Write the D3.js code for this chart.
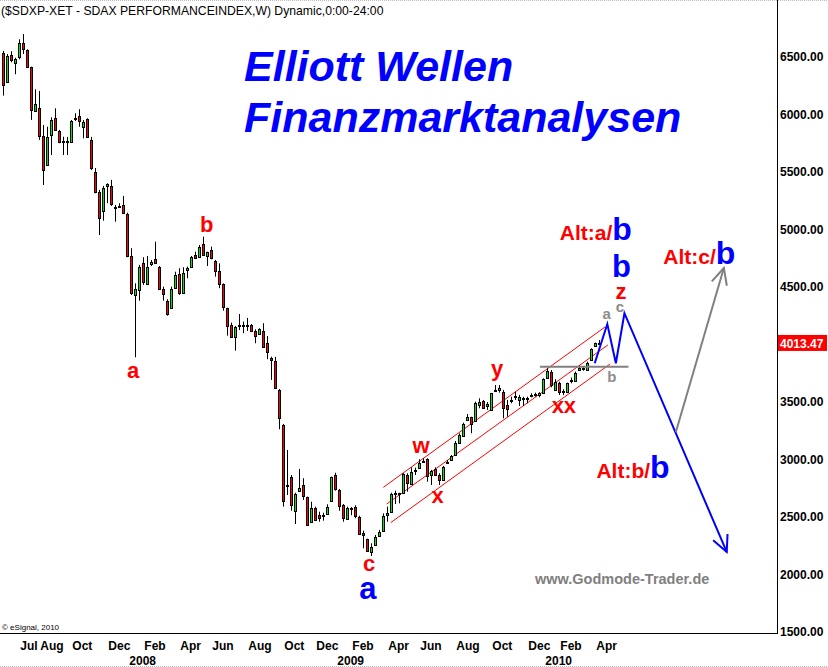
<!DOCTYPE html>
<html>
<head>
<meta charset="utf-8">
<script src="https://cdn.jsdelivr.net/npm/d3@7"></script>
<style>
  body { margin: 0; background: #fff; }
  svg { display: block; font-family: Arial, "Liberation Sans", sans-serif; }
</style>
</head>
<body>
<svg width="828" height="667"></svg>
<script>
// weekly SDAX candles, first week starts Mon 2007-06-04
var firstWeek = '2007-06-04';
var opens = [6538,6286,6518,6451,6498,6619,6561,6411,6033,6057,5813,5561,5822,5967,5857,5764,5765,5764,5966,5987,
  5894,5959,5779,5503,5329,5155,5372,5379,5192,5202,5213,5135,4770,4431,4474,4706,4524,4694,4741,4672,
  4480,4381,4315,4489,4611,4445,4642,4677,4779,4759,4874,4764,4822,4729,4642,4526,4315,4170,4068,4165,
  4165,4170,4170,4118,4089,4120,4011,3880,3857,3605,3300,2776,2845,2555,2720,2776,2672,2451,2581,2515,
  2503,2532,2633,2865,2735,2604,2483,2570,2585,2503,2358,2306,2198,2263,2338,2381,2520,2546,2705,2706,
  2706,2865,2787,2906,2932,2987,3002,2865,2915,2863,2816,2976,2996,3039,3146,3205,3344,3367,3329,3474,
  3509,3465,3425,3602,3605,3587,3474,3515,3544,3518,3531,3531,3558,3565,3561,3576,3715,3764,3611,3668,
  3598,3581,3684,3685,3778,3791,3785,3865,3981,4011];
var highs = [6553,6526,6550,6494,6654,6700,6567,6416,6219,6205,5909,5894,5976,6054,5865,5807,5805,5952,6011,6046,
  5952,5967,5805,5535,5344,5379,5402,5431,5213,5228,5292,5146,4837,4532,4692,4759,4770,4735,4894,4683,
  4503,4393,4503,4633,4663,4672,4677,4770,4807,4866,4938,4807,4851,4735,4706,4531,4320,4190,4161,4265,
  4199,4231,4178,4132,4141,4185,4074,3894,3892,3613,3309,3083,2865,2711,2918,2837,2677,2633,2590,2546,
  2537,2611,2851,2885,2744,2613,2590,2587,2602,2511,2381,2312,2271,2344,2387,2532,2590,2711,2729,2711,
  2880,2880,2932,2929,3002,3011,3011,2909,2932,2880,2944,2996,3039,3161,3228,3320,3396,3372,3503,3532,
  3518,3500,3579,3648,3648,3605,3518,3546,3590,3561,3546,3546,3576,3581,3585,3706,3793,3778,3698,3677,
  3611,3668,3712,3764,3819,3813,3851,3967,4016,4039];
var lows = [6164,6283,6454,6350,6480,6526,6411,5953,6031,5779,5387,5552,5648,5861,5750,5648,5648,5761,5944,5894,
  5793,5796,5518,5315,4952,5077,5228,5205,5068,5193,5135,4759,4431,3889,4381,4518,4518,4683,4700,4474,
  4381,4251,4309,4483,4431,4439,4576,4672,4744,4752,4770,4683,4741,4590,4489,4294,4077,4065,3946,4126,
  4098,4118,4109,4011,4083,3970,3872,3692,3613,3263,2590,2691,2555,2439,2718,2648,2422,2448,2465,2459,
  2468,2526,2631,2729,2555,2459,2474,2515,2489,2352,2228,2196,2161,2257,2335,2378,2459,2544,2613,2619,
  2700,2720,2778,2865,2926,2979,2807,2778,2857,2778,2813,2967,2992,3035,3144,3196,3335,3228,3326,3445,
  3439,3431,3422,3590,3581,3358,3372,3489,3518,3465,3465,3489,3541,3546,3541,3570,3709,3628,3598,3561,
  3561,3578,3663,3683,3772,3772,3779,3861,3979,4005];
var closes = [6263,6509,6477,6486,6619,6567,6416,6039,6092,5813,5518,5807,5953,5865,5764,5770,5770,5944,5970,5946,
  5935,5802,5532,5329,5106,5359,5393,5222,5196,5205,5146,4770,4451,4480,4672,4538,4672,4715,4706,4480,
  4439,4265,4483,4605,4445,4619,4663,4764,4750,4845,4776,4802,4750,4642,4526,4329,4155,4068,4155,4170,
  4170,4165,4120,4077,4132,3981,3929,3859,3619,3358,2642,2770,2598,2700,2750,2677,2431,2576,2474,2485,
  2515,2590,2845,2744,2598,2494,2576,2574,2511,2358,2341,2198,2242,2329,2372,2509,2537,2700,2706,2709,
  2872,2798,2894,2909,2972,2990,2857,2903,2865,2816,2932,2978,3031,3146,3213,3306,3367,3309,3489,3503,
  3445,3483,3576,3605,3622,3445,3437,3518,3552,3546,3532,3532,3561,3567,3576,3700,3772,3648,3677,3590,
  3585,3663,3687,3755,3793,3793,3842,3958,4011,4013.47];
var lastValue = 4013.47;

var yTicks = [1500,2000,2500,3000,3500,4000,4500,5000,5500,6000,6500];
var monthTicks = ['2007-07-02','2007-08-06','2007-10-01','2007-12-03','2008-02-04','2008-04-07','2008-06-02',
  '2008-08-04','2008-10-06','2008-12-01','2009-02-02','2009-04-06','2009-06-01','2009-08-03','2009-10-05',
  '2009-12-07','2010-02-01','2010-04-05'];
var yearTicks = ['2008-01-07','2009-01-05','2010-01-04'];

// drawn analysis: channel, zigzag forecast, alternative arrow
var channelLines = [
  [['2009-03-30',2758],['2010-04-22',4152]],
  [['2009-04-05',2613],['2010-04-27',3996]],
  [['2009-04-12',2451],['2010-05-01',3831]]
];
var supportLine = [['2009-12-29',3807],['2010-06-02',3807]];
var forecastPath = [['2010-04-04',3837],['2010-04-26',4178],['2010-05-11',3837],['2010-05-26',4272],['2010-11-21',2196]];
var altArrow = [['2010-08-24',3239],['2010-11-16',4665]];

var waveLabels = [
  {t:'a', d:'2008-01-17', v:3709, c:'red'},
  {t:'b', d:'2008-05-25', v:4978, c:'red'},
  {t:'c', d:'2009-03-05', v:2030, c:'red'},
  {t:'w', d:'2009-06-04', v:3057, c:'red'},
  {t:'x', d:'2009-07-03', v:2622, c:'red'},
  {t:'y', d:'2009-10-15', v:3726, c:'red'},
  {t:'xx', d:'2010-02-09', v:3405, c:'red'},
  {t:'z', d:'2010-05-20', v:4396, c:'red'},
  {t:'a', d:'2009-03-03', v:1785, c:'blue'},
  {t:'b', d:'2010-05-21', v:4585, c:'blue'},
  {t:'a', d:'2010-04-25', v:4222, c:'gray'},
  {t:'c', d:'2010-05-18', v:4283, c:'gray'},
  {t:'b', d:'2010-05-04', v:3674, c:'gray'}
];
var altLabels = [
  {t:'Alt:a/', d:'2010-02-02', v:4909},
  {t:'Alt:c/', d:'2010-08-02', v:4700},
  {t:'Alt:b/', d:'2010-04-07', v:2839}
];

var parse = d3.utcParse('%Y-%m-%d');
var start = parse(firstWeek);
var candles = opens.map(function (o, i) {
  return { date: d3.utcMonday.offset(start, i), o: o, h: highs[i], l: lows[i], c: closes[i] };
});

var svg = d3.select('svg');
var axisX = 777, axisY = 633;

var x = d3.scaleUtc()
  .domain([start, d3.utcMonday.offset(start, 193)])
  .range([3.3, 775.3]);
var y = d3.scaleLinear().domain([1500, 6500]).range([632, 57]);

var colors = { red: '#ff0000', blue: '#0000ff', gray: '#8c8c8c', candleUp: '#00e600', candleDown: '#ff0000' };

// frame
svg.append('line').attr('x1', 0).attr('x2', 828).attr('y1', 0.5).attr('y2', 0.5)
  .attr('stroke', '#bbb').attr('stroke-dasharray', '1,1');
svg.append('line').attr('x1', 0).attr('x2', 828).attr('y1', 666.5).attr('y2', 666.5)
  .attr('stroke', '#bbb').attr('stroke-dasharray', '1,1');
svg.append('line').attr('x1', axisX + 0.5).attr('x2', axisX + 0.5).attr('y1', 0).attr('y2', axisY + 1)
  .attr('stroke', '#000');
svg.append('line').attr('x1', 0).attr('x2', axisX + 1).attr('y1', axisY + 0.5).attr('y2', axisY + 0.5)
  .attr('stroke', '#000');

// title
svg.append('text').attr('x', 1).attr('y', 15).attr('font-size', 12.2).attr('fill', '#000')
  .text('($SDXP-XET - SDAX PERFORMANCEINDEX,W) Dynamic,0:00-24:00');

svg.append('text').attr('x', 244).attr('y', 81).attr('font-size', 43).attr('font-weight', 'bold')
  .attr('font-style', 'italic').attr('fill', colors.blue).text('Elliott Wellen');
svg.append('text').attr('x', 244).attr('y', 132).attr('font-size', 43).attr('font-weight', 'bold')
  .attr('font-style', 'italic').attr('fill', colors.blue).text('Finanzmarktanalysen');

// y axis (right)
var yAxis = svg.append('g')
  .attr('transform', 'translate(' + (axisX + 1) + ',0)')
  .call(d3.axisRight(y).tickValues(yTicks).tickFormat(d3.format('.2f')).tickSize(0).tickPadding(2));
yAxis.select('.domain').remove();
yAxis.selectAll('text').attr('font-size', 12).attr('font-weight', 'bold').attr('fill', '#000')
  .attr('font-family', 'Arial, "Liberation Sans", sans-serif');

// last value marker
var lastG = svg.append('g').attr('transform', 'translate(' + (axisX + 1) + ',' + y(lastValue) + ')');
lastG.append('rect').attr('x', 0).attr('y', -8).attr('width', 49).attr('height', 16).attr('fill', '#ff0000');
lastG.append('text').attr('x', 2).attr('y', 5).attr('font-size', 12).attr('font-weight', 'bold')
  .attr('fill', '#fff').text(d3.format('.2f')(lastValue));

// x axis
var xAxis = svg.append('g')
  .attr('transform', 'translate(0,' + axisY + ')')
  .call(d3.axisBottom(x).tickValues(monthTicks.map(parse)).tickFormat(d3.utcFormat('%b')).tickSize(0).tickPadding(0));
xAxis.select('.domain').remove();
xAxis.selectAll('text').attr('text-anchor', 'start').attr('dx', 0.5).attr('y', 17).attr('dy', 0)
  .attr('font-size', 12).attr('font-weight', 'bold').attr('fill', '#000')
  .attr('font-family', 'Arial, "Liberation Sans", sans-serif');

var yearAxis = svg.append('g')
  .attr('transform', 'translate(0,' + axisY + ')')
  .call(d3.axisBottom(x).tickValues(yearTicks.map(parse)).tickFormat(d3.utcFormat('%Y')).tickSize(0).tickPadding(0));
yearAxis.select('.domain').remove();
yearAxis.selectAll('text').attr('text-anchor', 'start').attr('dx', 1.5).attr('y', 32).attr('dy', 0)
  .attr('font-size', 12).attr('font-weight', 'bold').attr('fill', '#000')
  .attr('font-family', 'Arial, "Liberation Sans", sans-serif');

svg.append('text').attr('x', 2).attr('y', 630).attr('font-size', 8).attr('fill', '#000')
  .text('\u00a9 eSignal, 2010');

// channel lines
var line = d3.line()
  .x(function (d) { return x(parse(d[0])); })
  .y(function (d) { return y(d[1]); });

svg.selectAll('.channel')
  .data(channelLines)
  .enter().append('path')
  .attr('class', 'channel')
  .attr('d', line)
  .attr('fill', 'none')
  .attr('stroke', colors.red)
  .attr('stroke-width', 1);

// candles
var cg = svg.append('g');
var cand = cg.selectAll('g')
  .data(candles)
  .enter().append('g');
cand.append('line')
  .attr('x1', function (d) { return Math.round(x(d.date)) + 0.5; })
  .attr('x2', function (d) { return Math.round(x(d.date)) + 0.5; })
  .attr('y1', function (d) { return y(d.h); })
  .attr('y2', function (d) { return y(d.l); })
  .attr('stroke', '#000');
cand.append('rect')
  .attr('x', function (d) { return Math.round(x(d.date)) - 0.5; })
  .attr('y', function (d) { return Math.round(y(Math.max(d.o, d.c))) + 0.5; })
  .attr('width', 2)
  .attr('height', function (d) { return Math.max(1, Math.round(Math.abs(y(d.o) - y(d.c)))); })
  .attr('fill', function (d) { return d.c >= d.o ? colors.candleUp : colors.candleDown; })
  .attr('stroke', '#000');

// support line
svg.append('path').attr('d', line(supportLine)).attr('fill', 'none')
  .attr('stroke', '#808080').attr('stroke-width', 2);

// arrowhead from the last segment of a path
function arrowHead(pts, len) {
  var p1 = [x(parse(pts[pts.length - 2][0])), y(pts[pts.length - 2][1])];
  var p2 = [x(parse(pts[pts.length - 1][0])), y(pts[pts.length - 1][1])];
  var ang = Math.atan2(p2[1] - p1[1], p2[0] - p1[0]);
  var a1 = ang + Math.PI - 0.45, a2 = ang + Math.PI + 0.45;
  return 'M' + (p2[0] + len * Math.cos(a1)) + ',' + (p2[1] + len * Math.sin(a1)) +
    'L' + p2[0] + ',' + p2[1] +
    'L' + (p2[0] + len * Math.cos(a2)) + ',' + (p2[1] + len * Math.sin(a2));
}

svg.append('path').attr('d', line(forecastPath)).attr('fill', 'none')
  .attr('stroke', colors.blue).attr('stroke-width', 2).attr('stroke-linejoin', 'miter');
svg.append('path').attr('d', arrowHead(forecastPath, 18)).attr('fill', 'none')
  .attr('stroke', colors.blue).attr('stroke-width', 2);

svg.append('path').attr('d', line(altArrow)).attr('fill', 'none')
  .attr('stroke', '#808080').attr('stroke-width', 2);
svg.append('path').attr('d', arrowHead(altArrow, 18)).attr('fill', 'none')
  .attr('stroke', '#808080').attr('stroke-width', 2);

// wave labels
var sizes = { red: 22, blue: 31, gray: 15 };
svg.selectAll('.wave')
  .data(waveLabels)
  .enter().append('text')
  .attr('class', 'wave')
  .attr('x', function (d) { return x(parse(d.d)); })
  .attr('y', function (d) { return y(d.v); })
  .attr('text-anchor', 'middle')
  .attr('font-weight', 'bold')
  .attr('font-size', function (d) { return sizes[d.c]; })
  .attr('fill', function (d) { return colors[d.c]; })
  .text(function (d) { return d.t; });

var alt = svg.selectAll('.alt')
  .data(altLabels)
  .enter().append('text')
  .attr('class', 'alt')
  .attr('x', function (d) { return x(parse(d.d)); })
  .attr('y', function (d) { return y(d.v); })
  .attr('font-weight', 'bold');
alt.append('tspan').attr('font-size', 21).attr('fill', colors.red).text(function (d) { return d.t; });
alt.append('tspan').attr('font-size', 32).attr('fill', colors.blue).text('b');

svg.append('text').attr('x', 535).attr('y', 584).attr('font-size', 14.5).attr('font-weight', 'bold')
  .attr('fill', '#808080').text('www.Godmode-Trader.de');
</script>
</body>
</html>
